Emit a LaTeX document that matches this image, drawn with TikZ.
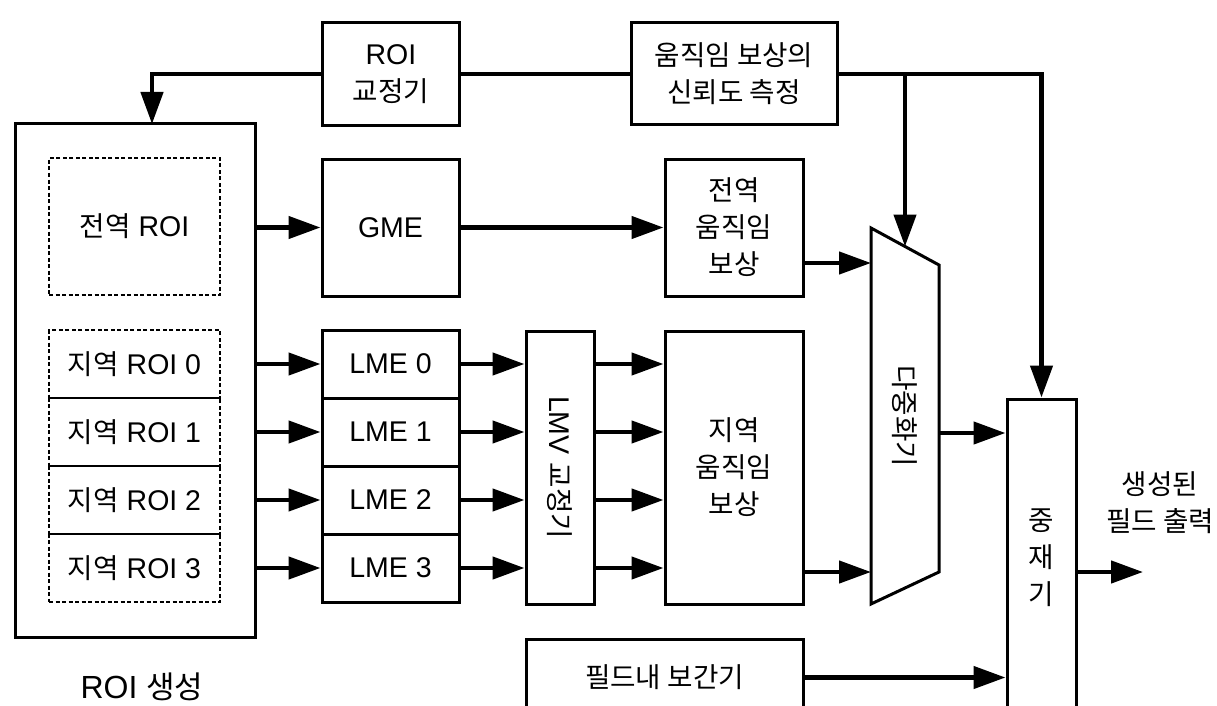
\documentclass[tikz,border=0pt]{standalone}
\usepackage{fontspec}
\setmainfont{Liberation Sans}
\newfontfamily\krfont[Scale=0.97]{Noto Sans CJK KR}
\newcommand{\ko}[1]{{\krfont #1}}
\usetikzlibrary{arrows.meta}

\begin{document}
\begin{tikzpicture}[x=1pt, y=-1pt, font=\fontsize{28.5}{37}\selectfont,
  blk/.style={draw, line width=3pt, align=center, inner sep=0pt},
  dblk/.style={draw, line width=2pt, dash pattern=on 4pt off 2.5pt, align=center, inner sep=0pt},
  ln/.style={line width=4.5pt},
  arr/.style={line width=4.5pt, -{Triangle[length=32pt,width=22pt]}}]
\useasboundingbox (0,0) rectangle (1217,706);
\clip (0,0) rectangle (1217,706);

\node[blk, minimum width=137pt, minimum height=103pt] (roic) at (391,74) {ROI\\\ko{교정기}};
\node[blk, minimum width=206pt, minimum height=102pt] (conf) at (734,74) {\ko{움직임 보상의}\\\ko{신뢰도 측정}};

\node[blk, minimum width=240pt, minimum height=513pt] (roigen) at (135,380.5) {};
\node[dblk, minimum width=171pt, minimum height=137pt] (groi) at (134.5,226.5) {\ko{전역} ROI};
\node[blk, minimum width=137pt, minimum height=137pt] (gme) at (390.5,227.5) {GME};
\node[blk, minimum width=138pt, minimum height=137pt] (gmc) at (734,227.5) {\ko{전역}\\\ko{움직임}\\\ko{보상}};

\foreach \i in {0,...,3} {
  \node[dblk, minimum width=171pt, minimum height=68pt] (lroi\i) at (134.5,{364+68*\i}) {\ko{지역} ROI \i};
  \node[blk, minimum width=137pt, minimum height=68pt] (lme\i) at (390.5,{364+68*\i}) {LME \i};
}
\node[blk, minimum width=68pt, minimum height=273pt] (lmv) at (560,467.5) {};
\node[rotate=-90] (lmvtxt) at (lmv) {LMV \ko{교정기}};
\node[blk, minimum width=138pt, minimum height=273pt] (lmc) at (734,467.5) {\ko{지역}\\\ko{움직임}\\\ko{보상}};

\coordinate (mux-tl) at (871,228);
\coordinate (mux-tr) at (939,265);
\coordinate (mux-br) at (939,572);
\coordinate (mux-bl) at (871,604);
\draw[line width=3pt] (mux-tl) -- (mux-tr) -- (mux-br) -- (mux-bl) -- cycle;
\node[rotate=-90] (mux) at (905,416) {\ko{다중화기}};

\node[blk, minimum width=69pt, minimum height=317pt] (arb) at (1041.5,557.5) {\ko{중}\\\ko{재}\\\ko{기}};
\node[blk, minimum width=277pt, minimum height=77pt] (interp) at (664.5,677.5) {\ko{필드내 보간기}};

\node[font=\fontsize{32}{37}\selectfont] (gentxt) at (142,687) {ROI \ko{생성}};
\node[align=center] (outtxt) at (1160,503) {\ko{생성된}\\\ko{필드 출력}};

\coordinate (roiin) at (152,124);
\coordinate (muxin0) at (905,246.5);
\coordinate (muxin1) at (871,263);
\coordinate (muxin2) at (871,572);
\coordinate (muxout) at (939,433);
\coordinate (outend) at (1143,572);

\draw[ln] (conf.west) -- (roic.east);
\draw[arr] (roic.west) -| (roiin);
\draw[arr] (conf.east) -| (arb.north);
\draw[arr] (conf.east -| muxin0) -- (muxin0);

\draw[arr] (roigen.east |- gme.west) -- (gme.west);
\draw[arr] (gme.east) -- (gmc.west);
\draw[arr] (gmc.east |- muxin1) -- (muxin1);
\foreach \i in {0,...,3} {
  \draw[arr] (roigen.east |- lme\i.west) -- (lme\i.west);
  \draw[arr] (lme\i.east) -- (lmv.west |- lme\i.east);
  \draw[arr] (lmv.east |- lme\i.east) -- (lmc.west |- lme\i.east);
}
\draw[arr] (lmc.east |- muxin2) -- (muxin2);
\draw[arr] (muxout) -- (arb.west |- muxout);
\draw[arr] (arb.east |- outend) -- (outend);
\draw[arr] (interp.east) -- (arb.west |- interp.east);
\end{tikzpicture}
\end{document}
